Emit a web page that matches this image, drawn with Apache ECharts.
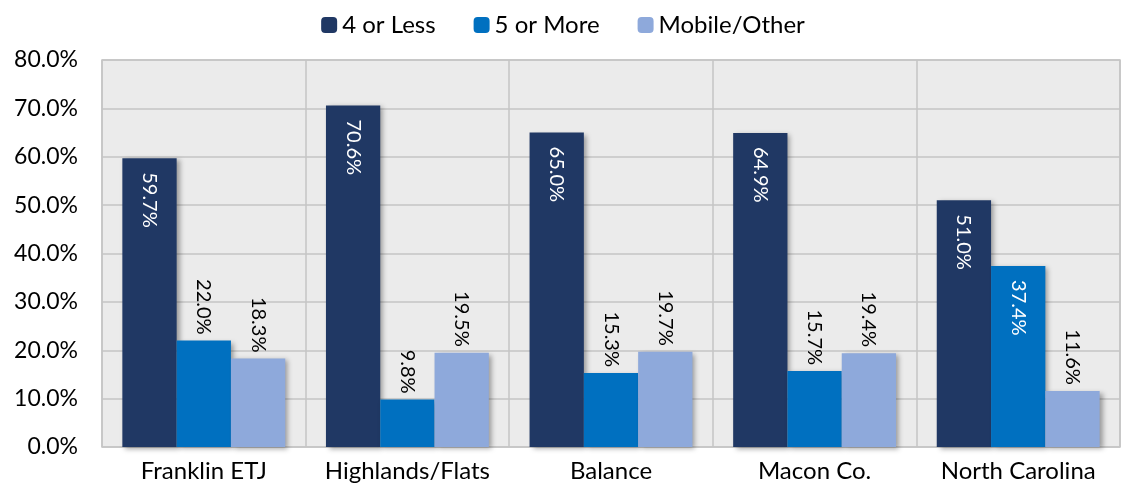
<!DOCTYPE html>
<html><head><meta charset="utf-8">
<script src="https://cdn.jsdelivr.net/npm/echarts@6/dist/echarts.min.js"></script>
<style>html,body{margin:0;padding:0;background:#fff}#c{width:1126px;height:494px}</style>
</head><body><div id="c"></div>
<script>
const categories = ['Franklin ETJ', 'Highlands/Flats', 'Balance', 'Macon Co.', 'North Carolina'];
const fourOrLess = [59.7, 70.6, 65.0, 64.9, 51.0];
const fiveOrMore = [22.0, 9.8, 15.3, 15.7, 37.4];
const mobileOther = [18.3, 19.5, 19.7, 19.4, 11.6];
const seriesNames = ['4 or Less', '5 or More', 'Mobile/Other'];
const colors = ['#203864', '#0070C0', '#8EA9DB'];
const FONT = 'Lato, "Noto Sans", sans-serif';

const shadow = {shadowColor: 'rgba(0,0,0,0.35)', shadowBlur: 5, shadowOffsetX: 3, shadowOffsetY: 2};
const insideLabel = {show: true, position: 'insideTop', rotate: -90, align: 'left', verticalAlign: 'middle',
  distance: 14, color: '#fff', fontSize: 20, fontFamily: FONT, formatter: p => p.value.toFixed(1) + '%'};
const topLabel = {show: true, position: 'top', rotate: -90, align: 'right', verticalAlign: 'middle',
  distance: 6, color: '#000', fontSize: 20, fontFamily: FONT, formatter: p => p.value.toFixed(1) + '%'};

function mk(vals, def, insideIdx) {
  return vals.map((v, i) => insideIdx.includes(i) ? {value: v, label: insideLabel} : {value: v, label: def});
}

const chart = echarts.init(document.getElementById('c'));
chart.setOption({
  animation: false,
  textStyle: {fontFamily: FONT},
  legend: {top: 8, left: 'center', itemWidth: 16, itemHeight: 16, itemGap: 38,
    textStyle: {fontSize: 24, color: '#000', fontFamily: FONT}, data: seriesNames},
  grid: {left: 102, right: 6, top: 60, bottom: 47, show: true, backgroundColor: '#ebebeb',
    borderColor: '#c4c4c4', borderWidth: 1.5},
  xAxis: {type: 'category', data: categories,
    axisLine: {show: false}, axisTick: {show: false},
    splitLine: {show: true, interval: 0, lineStyle: {color: '#c4c4c4', width: 1.5}},
    axisLabel: {interval: 0, hideOverlap: false, fontSize: 24, color: '#000', margin: 12, fontFamily: FONT}},
  yAxis: {type: 'value', min: 0, max: 80, interval: 10,
    axisLine: {show: false}, axisTick: {show: false},
    splitLine: {lineStyle: {color: '#c4c4c4', width: 1.5}},
    axisLabel: {fontSize: 23, color: '#000', margin: 24, fontFamily: FONT, formatter: v => v.toFixed(1) + '%'}},
  series: [
    {name: seriesNames[0], type: 'bar', barGap: '0%', barCategoryGap: '20%',
     itemStyle: Object.assign({color: colors[0]}, shadow),
     data: mk(fourOrLess, insideLabel, [])},
    {name: seriesNames[1], type: 'bar', barGap: '0%', barCategoryGap: '20%',
     itemStyle: Object.assign({color: colors[1]}, shadow),
     data: mk(fiveOrMore, topLabel, [4])},
    {name: seriesNames[2], type: 'bar', barGap: '0%', barCategoryGap: '20%',
     itemStyle: Object.assign({color: colors[2]}, shadow),
     data: mk(mobileOther, topLabel, [])}
  ]
});
</script></body></html>
